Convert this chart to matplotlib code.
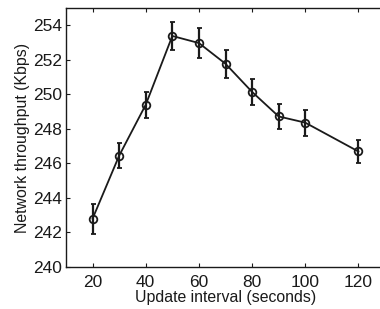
import matplotlib
matplotlib.use("Agg")
import matplotlib.pyplot as plt

x = [20, 30, 40, 50, 60, 70, 80, 90, 100, 120]
y = [242.8, 246.45, 249.4, 253.38, 252.97, 251.77, 250.14, 248.72, 248.36, 246.69]
err = [0.86, 0.73, 0.75, 0.83, 0.88, 0.80, 0.76, 0.70, 0.76, 0.68]
xticks = [20, 40, 60, 80, 100, 120]
yticks = [240, 242, 244, 246, 248, 250, 252, 254]

plt.rcParams['font.family'] = ['Liberation Sans', 'DejaVu Sans']
fig = plt.figure(figsize=(3.8, 3.09), dpi=100)
ax = fig.add_axes([66/380, 1-267/309, (385-66)/380, (267-8)/309])
ax.errorbar(x, y, yerr=err, color='#1a1a1a', lw=1.3, elinewidth=1.6, capsize=1.8,
            capthick=1.6, marker='o', ms=5.5, mfc='none', mec='#1a1a1a', mew=1.3)
ax.set_xlim(10, 130)
ax.set_ylim(240, 255)
ax.set_xticks(xticks)
ax.set_yticks(yticks)
ax.tick_params(direction='in', length=3, width=0.8, top=True, labelsize=12.5, colors='#1a1a1a')
ax.tick_params(axis='x', pad=6)
ax.tick_params(axis='y', pad=3)
for s in ax.spines.values():
    s.set_linewidth(1.0)
    s.set_color('#1a1a1a')
ax.set_xlabel('Update interval (seconds)', fontsize=11.4, labelpad=0, color='#1a1a1a')
ax.set_ylabel('Network throughput (Kbps)', fontsize=11.4, labelpad=2, color='#1a1a1a')
fig.savefig('out.png', dpi=100)
